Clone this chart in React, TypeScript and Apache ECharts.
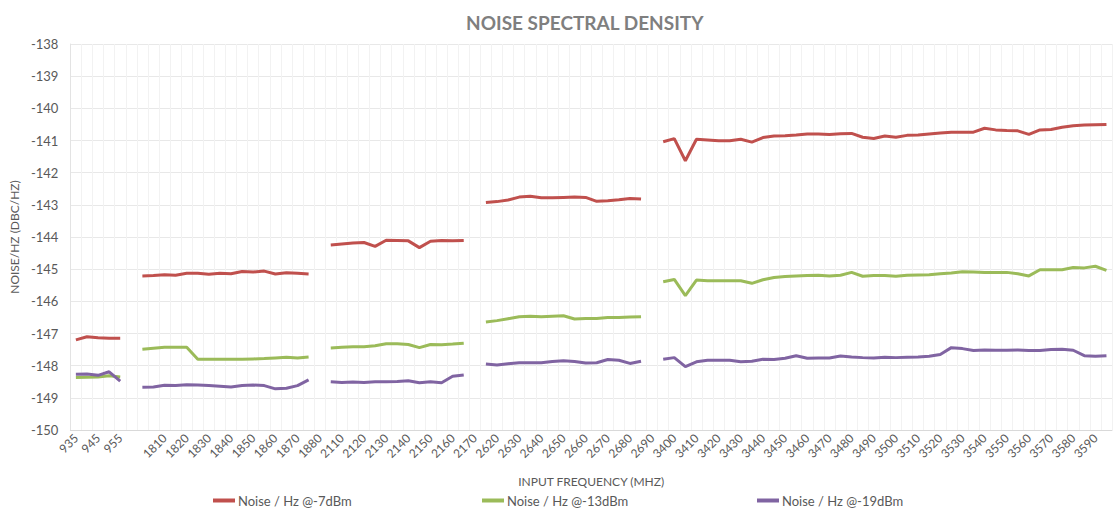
import React, { useEffect, useRef } from "react";
import * as echarts from "echarts";

const categories: string[] = [
  "935", "940", "945", "950", "955",
  "", " ",
  "1805", "1810", "1815", "1820", "1825", "1830", "1835", "1840", "1845", "1850", "1855", "1860", "1865", "1870", "1875", "1880",
  "2105", "2110", "2115", "2120", "2125", "2130", "2135", "2140", "2145", "2150", "2155", "2160", "2165", "2170",
  "2615", "2620", "2625", "2630", "2635", "2640", "2645", "2650", "2655", "2660", "2665", "2670", "2675", "2680", "2685", "2690",
  "3395", "3400", "3405", "3410", "3415", "3420", "3425", "3430", "3435", "3440", "3445", "3450", "3455", "3460", "3465", "3470",
  "3475", "3480", "3485", "3490", "3495", "3500", "3505", "3510", "3515", "3520", "3525", "3530", "3535", "3540", "3545", "3550",
  "3555", "3560", "3565", "3570", "3575", "3580", "3585", "3590", "3595",
];

const noise7dBm: (number | null)[] = [
  -147.2, -147.1, -147.13, -147.15, -147.15,
  null,
  -145.21, -145.2, -145.17, -145.19, -145.13, -145.13, -145.16, -145.13, -145.14, -145.07, -145.09, -145.06, -145.15, -145.11, -145.13, -145.15,
  null,
  -144.25, -144.22, -144.19, -144.17, -144.29, -144.1, -144.11, -144.12, -144.33, -144.13, -144.11, -144.12, -144.11,
  null,
  -142.93, -142.9, -142.85, -142.76, -142.73, -142.78, -142.78, -142.77, -142.76, -142.77, -142.89, -142.87, -142.84, -142.8, -142.82,
  null,
  -141.04, -140.94, -141.63, -140.96, -140.985, -141.01, -141.01, -140.96, -141.05, -140.91, -140.86, -140.85, -140.83, -140.8, -140.8,
  -140.81, -140.79, -140.78, -140.9, -140.94, -140.86, -140.9, -140.84, -140.83, -140.8, -140.77, -140.74, -140.74, -140.74, -140.62,
  -140.67, -140.69, -140.7, -140.81, -140.67, -140.66, -140.59, -140.54, -140.52, -140.51, -140.5,
];

const noise13dBm: (number | null)[] = [
  -148.37, -148.36, -148.35, -148.31, -148.35,
  null,
  -147.49, -147.46, -147.43, -147.43, -147.43, -147.8, -147.8, -147.8, -147.8, -147.8, -147.79, -147.78, -147.76, -147.74, -147.76, -147.73,
  null,
  -147.45, -147.43, -147.41, -147.41, -147.38, -147.32, -147.32, -147.34, -147.44, -147.34, -147.35, -147.33, -147.3,
  null,
  -146.64, -146.6, -146.54, -146.48, -146.46, -146.48, -146.46, -146.45, -146.55, -146.53, -146.53, -146.5, -146.5, -146.49, -146.48,
  null,
  -145.39, -145.32, -145.82, -145.34, -145.36, -145.36, -145.36, -145.36, -145.44, -145.33, -145.26, -145.23, -145.21, -145.2, -145.19,
  -145.21, -145.19, -145.1, -145.22, -145.2, -145.2, -145.22, -145.19, -145.18, -145.17, -145.14, -145.12, -145.08, -145.09, -145.1,
  -145.1, -145.1, -145.14, -145.21, -145.02, -145.02, -145.02, -144.95, -144.96, -144.91, -145.04,
];

const noise19dBm: (number | null)[] = [
  -148.27, -148.26, -148.3, -148.19, -148.48,
  null,
  -148.67, -148.66, -148.61, -148.62, -148.59, -148.6, -148.62, -148.64, -148.66, -148.62, -148.6, -148.62, -148.72, -148.7, -148.62, -148.44,
  null,
  -148.5, -148.52, -148.51, -148.52, -148.5, -148.5, -148.49, -148.47, -148.53, -148.5, -148.53, -148.33, -148.29,
  null,
  -147.95, -147.98, -147.94, -147.91, -147.91, -147.91, -147.87, -147.85, -147.87, -147.92, -147.91, -147.81, -147.83, -147.93, -147.86,
  null,
  -147.8, -147.75, -148.03, -147.88, -147.83, -147.83, -147.83, -147.88, -147.86, -147.8, -147.81, -147.77, -147.69, -147.77, -147.76,
  -147.76, -147.7, -147.73, -147.75, -147.76, -147.74, -147.75, -147.74, -147.73, -147.71, -147.65, -147.44, -147.47, -147.53, -147.51,
  -147.52, -147.52, -147.51, -147.53, -147.53, -147.5, -147.49, -147.52, -147.69, -147.71, -147.69,
];

const seriesNames = ["Noise / Hz @-7dBm", "Noise / Hz @-13dBm", "Noise / Hz @-19dBm"];
const seriesColors = ["#c0504d", "#9bbb59", "#8064a2"];
const legendLefts = [213, 482, 757];

const FONT = "Lato, 'Open Sans', sans-serif";
const TEXT = "#595959";

export default function App() {
  const ref = useRef<HTMLDivElement>(null);

  useEffect(() => {
    document.body.style.margin = "0";
    if (!ref.current) return;
    const chart = echarts.init(ref.current, undefined, { renderer: "svg" });
    const data = [noise7dBm, noise13dBm, noise19dBm];
    chart.setOption({
      animation: false,
      backgroundColor: "#ffffff",
      textStyle: { fontFamily: FONT },
      title: {
        text: "NOISE SPECTRAL DENSITY",
        left: 466,
        top: 13,
        padding: 0,
        textStyle: { fontFamily: FONT, fontSize: 19, fontWeight: "bold", color: "#7f7f7f" },
      },
      legend: seriesNames.map((n, i) => ({
        data: [n],
        left: legendLefts[i],
        top: 494,
        padding: 0,
        icon: "rect",
        itemWidth: 22,
        itemHeight: 4,
        itemGap: 3,
        textStyle: { fontFamily: FONT, fontSize: 13, color: TEXT, padding: [0, 0, 0, -2] },
      })),
      grid: { left: 56, right: 7, top: 44, bottom: 89, containLabel: false },
      xAxis: {
        type: "category",
        data: categories,
        boundaryGap: true,
        name: "INPUT FREQUENCY (MHZ)",
        nameLocation: "middle",
        nameGap: 45,
        nameTextStyle: { fontFamily: FONT, fontSize: 12, color: TEXT },
        axisLine: { show: true, lineStyle: { color: "#d9d9d9", width: 1 } },
        axisTick: { show: false },
        axisLabel: {
          interval: 1,
          rotate: 45,
          margin: 6,
          fontFamily: FONT,
          fontSize: 12,
          color: TEXT,
        },
        splitLine: { show: true, interval: 0, lineStyle: { color: "#f2f2f2", width: 1 } },
      },
      yAxis: {
        type: "value",
        min: -150,
        max: -138,
        interval: 1,
        name: "NOISE/HZ (DBC/HZ)",
        nameLocation: "middle",
        nameGap: 40,
        nameTextStyle: { fontFamily: FONT, fontSize: 12, color: TEXT },
        axisLine: { show: true, lineStyle: { color: "#e3e3e3", width: 1 } },
        axisTick: { show: false },
        axisLabel: { margin: 12, fontFamily: FONT, fontSize: 13, color: TEXT },
        splitLine: { show: true, lineStyle: { color: "#e8e8e8", width: 1 } },
      },
      series: seriesNames.map((n, i) => ({
        name: n,
        type: "line",
        data: data[i],
        symbol: "none",
        connectNulls: false,
        color: seriesColors[i],
        lineStyle: { width: 3, color: seriesColors[i] },
      })),
    });
    return () => chart.dispose();
  }, []);

  return <div ref={ref} style={{ width: 1119, height: 519 }} />;
}
